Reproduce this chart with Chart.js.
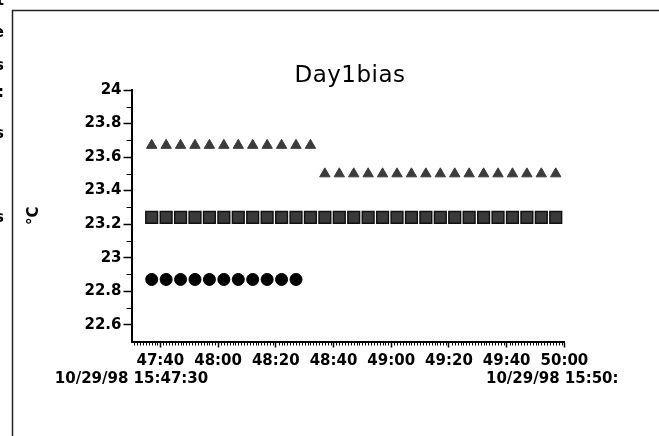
<!DOCTYPE html>
<html>
<head>
<meta charset="utf-8">
<script src="https://cdn.jsdelivr.net/npm/chart.js@4.4.1/dist/chart.umd.min.js"></script>
<style>
html, body { margin: 0; padding: 0; background: #fff; }
</style>
</head>
<body>
<canvas id="day1bias" width="659" height="436"></canvas>
<script>
// sample times (mm:ss after 15:00) and readings
const times = ['47:37', '47:42', '47:47', '47:52', '47:57', '48:02', '48:07', '48:12', '48:17', '48:22',
               '48:27', '48:32', '48:37', '48:42', '48:47', '48:52', '48:57', '49:02', '49:07', '49:12',
               '49:17', '49:22', '49:27', '49:32', '49:37', '49:42', '49:47', '49:52', '49:57'];
const triangleTemps = [23.67, 23.67, 23.67, 23.67, 23.67, 23.67, 23.67, 23.67, 23.67, 23.67,
                       23.67, 23.67, 23.5, 23.5, 23.5, 23.5, 23.5, 23.5, 23.5, 23.5,
                       23.5, 23.5, 23.5, 23.5, 23.5, 23.5, 23.5, 23.5, 23.5];
const squareTemps = [23.24, 23.24, 23.24, 23.24, 23.24, 23.24, 23.24, 23.24, 23.24, 23.24,
                     23.24, 23.24, 23.24, 23.24, 23.24, 23.24, 23.24, 23.24, 23.24, 23.24,
                     23.24, 23.24, 23.24, 23.24, 23.24, 23.24, 23.24, 23.24, 23.24];
const circleTemps = [22.87, 22.87, 22.87, 22.87, 22.87, 22.87, 22.87, 22.87, 22.87, 22.87, 22.87];
const xTickLabels = ['47:40', '48:00', '48:20', '48:40', '49:00', '49:20', '49:40', '50:00'];
const yTickValues = [22.6, 22.8, 23, 23.2, 23.4, 23.6, 23.8, 24];
const xStart = '47:30', xEnd = '50:00';
const chartTitle = 'Day1bias';
const startStamp = '10/29/98 15:47:30';
const endStamp = '10/29/98 15:50:';

const tickFont = 'DejaVu Sans';

function toSec(t) {
    const p = t.split(':');
    return (+p[0]) * 60 + (+p[1]);
}
function fmt(s) {
    const m = Math.floor(s / 60), ss = Math.round(s % 60);
    return m + ':' + (ss < 10 ? '0' : '') + ss;
}
function points(vals) {
    return vals.map((v, i) => ({x: toSec(times[i]), y: v}));
}

const extras = {
    id: 'extras',
    beforeDraw(chart) {
        const ctx = chart.ctx;
        ctx.save();
        // panel frame
        ctx.strokeStyle = '#222';
        ctx.lineWidth = 1.5;
        ctx.beginPath();
        ctx.moveTo(12.5, 436);
        ctx.lineTo(12.5, 10.5);
        ctx.lineTo(659, 10.5);
        ctx.stroke();
        // bits of text cut off at the left edge
        ctx.fillStyle = '#000';
        ctx.font = 'bold 15px ' + tickFont;
        ctx.textAlign = 'right';
        ctx.textBaseline = 'middle';
        [['t', 1], ['e', 33], ['s', 66], [':', 93], ['s', 134], ['s', 218]].forEach(f => ctx.fillText(f[0], 4, f[1]));
        // title, sits right of the plot centre in the original
        ctx.font = '23px ' + tickFont;
        ctx.textAlign = 'center';
        ctx.textBaseline = 'alphabetic';
        if ('letterSpacing' in ctx) ctx.letterSpacing = '0.5px';
        ctx.fillText(chartTitle, 350, 82);
        ctx.restore();
    },
    afterDraw(chart) {
        const ctx = chart.ctx, x = chart.scales.x, y = chart.scales.y;
        const area = chart.chartArea;
        ctx.save();
        ctx.strokeStyle = '#000';
        ctx.lineWidth = 1;
        ctx.beginPath();
        // minor ticks, every second on x, every 0.1 on y
        for (let s = toSec(xStart) + 1; s < toSec(xEnd); s++) {
            if (s % 20 === 0) continue;
            const px = Math.round(x.getPixelForValue(s)) + 0.5;
            ctx.moveTo(px, area.bottom);
            ctx.lineTo(px, area.bottom + 4);
        }
        for (let v = 227; v < 240; v += 2) {
            const py = Math.round(y.getPixelForValue(v / 10)) + 0.5;
            ctx.moveTo(area.left - 5, py);
            ctx.lineTo(area.left, py);
        }
        ctx.stroke();
        // date stamps under the axis
        ctx.fillStyle = '#000';
        ctx.font = 'bold 15px ' + tickFont;
        ctx.textBaseline = 'middle';
        ctx.textAlign = 'center';
        ctx.fillText(startStamp, x.getPixelForValue(toSec(xStart)), 379);
        ctx.textAlign = 'left';
        ctx.fillText(endStamp, 486, 379);
        ctx.restore();
    }
};

const ctx = document.getElementById('day1bias').getContext('2d');
const chart = new Chart(ctx, {
    type: 'scatter',
    data: {
        datasets: [{
            label: 'triangles',
            data: points(triangleTemps),
            pointStyle: 'triangle',
            pointRadius: 6,
            backgroundColor: '#3c3c3c',
            borderColor: '#3c3c3c',
            borderWidth: 1
        }, {
            label: 'squares',
            data: points(squareTemps),
            pointStyle: 'rect',
            pointRadius: 8.3,
            backgroundColor: '#3a3a3a',
            borderColor: '#111',
            borderWidth: 1.5
        }, {
            label: 'circles',
            data: points(circleTemps),
            pointStyle: 'circle',
            pointRadius: 6,
            backgroundColor: '#000',
            borderColor: '#000',
            borderWidth: 1
        }]
    },
    options: {
        responsive: false,
        animation: false,
        events: [],
        layout: {
            padding: {left: 0, right: 94.6, top: 90, bottom: 64.5}
        },
        plugins: {
            legend: {display: false},
            tooltip: {enabled: false},
            title: {display: false}
        },
        scales: {
            x: {
                type: 'linear',
                min: toSec(xStart),
                max: toSec(xEnd),
                afterFit: s => { s.height = 30; },
                afterBuildTicks: s => { s.ticks = xTickLabels.map(t => ({value: toSec(t)})); },
                ticks: {
                    color: '#000',
                    font: {family: tickFont, size: 15, weight: 'bold'},
                    padding: 5,
                    maxRotation: 0,
                    autoSkip: false,
                    callback: v => fmt(v)
                },
                grid: {drawOnChartArea: false, tickLength: 6, tickColor: '#000', tickWidth: 1.5},
                border: {color: '#000', width: 2}
            },
            y: {
                min: 22.5,
                max: 24,
                afterFit: s => { s.width = 131.5; },
                afterBuildTicks: s => { s.ticks = yTickValues.map(v => ({value: v})); },
                ticks: {
                    color: '#000',
                    font: {family: tickFont, size: 15, weight: 'bold'},
                    padding: 2,
                    callback: v => String(v)
                },
                grid: {drawOnChartArea: false, tickLength: 8, tickColor: '#000', tickWidth: 1.5},
                border: {color: '#000', width: 2},
                title: {
                    display: true,
                    text: '°C',
                    color: '#000',
                    font: {family: tickFont, size: 15, weight: 'bold'},
                    padding: {top: 25.6, bottom: 0}
                }
            }
        }
    },
    plugins: [extras]
});
</script>
</body>
</html>
